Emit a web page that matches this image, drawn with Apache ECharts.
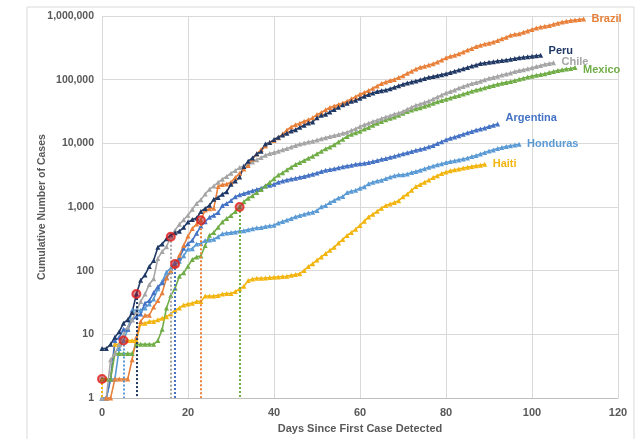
<!DOCTYPE html>
<html>
<head>
<meta charset="UTF-8">
<title>Cumulative cases</title>
<script type="text/javascript" src="https://cdn.jsdelivr.net/npm/echarts@6/dist/echarts.min.js"></script>
<style>
  html, body { margin: 0; padding: 0; background: #fff; }
  #main { width: 638px; height: 439px; }
</style>
</head>
<body>
<div id="main"></div>
<script type="text/javascript">
// cumulative cases per day since first case (index = day, null = no data yet)
var brazil = [null,1,1,2,2,2,2,4,9,16,20,20,27,34,45,77,100,121,175,250,350,460,540,620,900,940,960,2100,2250,2300,2450,2900,3400,3950,4500,5700,6800,8000,9100,10400,11100,12200,14000,16200,18100,19600,20700,22200,23400,25300,28300,30400,33700,36600,38700,40600,43100,45800,50000,54000,59300,63100,67400,73200,79700,87200,92200,97100,101100,107800,115500,126600,135800,146900,156100,162700,169600,178200,190100,203200,220300,233500,241100,255400,271600,291600,310100,330900,347400,363200,374900,391200,411800,438200,465200,498400,514800,526400,555400,584000,614900,645800,672800,691800,707400,739500,772400,802800,828800,850500,867600,880000,895000];
var peru = [6,6,7,9,11,15,17,22,43,71,86,117,145,234,263,318,363,395,416,480,580,635,671,852,950,1065,1323,1414,1595,1746,2281,2561,2954,4342,5256,5897,6848,7519,9784,10303,11475,12491,13489,14420,15628,16325,17837,19250,20914,21648,25331,27517,28699,31190,33931,36976,40459,42534,45928,47372,51189,54817,58526,61847,65015,67307,68822,72059,76306,80604,84495,88541,92273,94933,99483,104020,108769,111698,115754,119959,123979,129751,135905,141779,148285,155671,164476,170039,178914,183198,187400,191758,196515,199696,203736,208823,214788,220749,225132,229736,232992,237156,240908];
var chile = [1,1,4,5,7,10,13,17,23,33,43,61,75,156,201,238,342,434,537,632,746,922,1142,1306,1610,1909,2139,2449,2738,3031,3404,3737,4161,4471,4815,5116,5546,5972,6501,6927,7213,7525,7917,8273,8807,9252,9730,10088,10507,10832,11296,11812,12306,12858,13331,13813,14365,14885,16023,17008,18435,19663,20643,22016,23048,24581,25972,27219,28866,30063,31721,34381,37040,39542,41428,43781,46059,49579,53617,57581,61857,65393,69102,73997,77961,82289,86943,90638,94858,99688,105159,108686,113628,118292,122499,127745,134150,138846,142759,148496,154092,160846,167355,174293,179436,184449];
var mexico = [2,2,2,5,5,5,5,5,7,7,7,7,7,8,12,26,41,53,82,93,118,150,165,170,250,360,400,480,585,660,740,850,1000,1215,1378,1510,1688,1890,2143,2439,2785,3181,3441,3844,4219,4661,5014,5399,5847,6297,6875,7497,8261,8772,9501,10544,11633,12872,13842,14677,15529,16752,17799,19224,20739,22088,23471,24905,26025,27634,29616,31522,33460,35022,36327,38324,40186,42595,45032,47144,49219,51633,54346,56594,59567,62527,65856,68620,71105,74560,78023,81400,84627,87512,90664,93435,97326,101238,105680,110026,113619,117103,120102,124301,129184,133974,139196,142690,146837,150264,154863];
var argentina = [1,1,2,8,9,12,12,17,19,21,31,34,45,56,65,79,97,128,158,225,266,301,387,502,589,690,745,820,1054,1133,1265,1451,1554,1628,1715,1795,1894,1975,2142,2208,2277,2443,2571,2669,2758,2839,2941,3031,3144,3288,3435,3607,3780,3892,4003,4127,4285,4428,4532,4681,4783,4887,5020,5208,5371,5611,5776,6034,6265,6563,6879,7134,7479,7805,8068,8371,8809,9283,9931,10649,11353,12076,12628,13228,13933,14702,15419,16214,16851,17415,18319,19268,20197];
var honduras = [1,1,2,2,6,8,12,24,24,24,26,30,36,52,68,95,110,139,141,172,219,222,264,268,298,305,312,343,382,392,397,407,419,426,442,457,472,477,494,510,519,562,591,627,661,702,738,771,804,830,880,1010,1055,1178,1270,1385,1461,1685,1771,1830,1972,2080,2318,2460,2565,2646,2798,2955,3100,3204,3204,3300,3500,3600,3800,4000,4200,4400,4600,4800,5000,5200,5350,5500,5700,5900,6200,6450,6800,7200,7600,7900,8300,8600,8900,9200,9400,9650];
var haiti = [2,2,2,7,7,8,8,8,8,15,15,16,16,17,18,19,21,24,26,29,30,31,33,33,40,40,40,41,43,44,44,47,52,57,70,74,76,76,77,78,79,80,81,82,85,87,90,101,117,129,147,165,186,209,234,272,310,358,400,450,515,600,700,770,860,960,1060,1120,1180,1260,1450,1600,1830,2100,2250,2450,2650,2900,3100,3350,3550,3700,3850,3950,4100,4200,4350,4450,4550,4700];

// day of the first measure in each country (red circle + dotted drop line)
var measureDay = { Brazil: 23, Peru: 8, Chile: 16, Mexico: 32, Argentina: 17, Honduras: 5, Haiti: 0 };

var countries = [
    { name: 'Haiti', values: haiti, color: '#F2B50F', offset: [0, 0] },
    { name: 'Honduras', values: honduras, color: '#5B9BD5', offset: [0, 0] },
    { name: 'Argentina', values: argentina, color: '#4472C4', offset: [0, -6] },
    { name: 'Mexico', values: mexico, color: '#70AD47', offset: [0, 2] },
    { name: 'Chile', values: chile, color: '#A5A5A5', offset: [0, -1] },
    { name: 'Brazil', values: brazil, color: '#E8803A', offset: [0, 0] },
    { name: 'Peru', values: peru, color: '#1F3864', offset: [0, -4] }
];

var series = [];
var circles = [];
countries.forEach(function (c) {
    var pts = [];
    c.values.forEach(function (v, i) {
        if (v != null) pts.push([i, v]);
    });
    var d = measureDay[c.name];
    var dv = c.values[d];
    circles.push([d, dv]);
    series.push({
        name: c.name,
        type: 'line',
        data: pts,
        symbol: 'triangle',
        symbolSize: 5,
        showSymbol: true,
        lineStyle: { color: c.color, width: 1.6 },
        itemStyle: { color: c.color },
        endLabel: {
            show: true,
            formatter: c.name,
            color: c.color,
            fontWeight: 'bold',
            fontSize: 11,
            fontFamily: 'Liberation Sans',
            offset: c.offset
        },
        markLine: {
            silent: true,
            symbol: 'none',
            label: { show: false },
            lineStyle: { color: c.color, type: 'dotted', width: 2 },
            data: [[{ coord: [d, dv] }, { coord: [d, 1] }]]
        }
    });
});

series.push({
    name: 'measures',
    type: 'scatter',
    data: circles,
    symbol: 'circle',
    symbolSize: 8,
    z: 10,
    itemStyle: { color: 'rgba(160,20,40,0.6)', borderColor: '#E3211C', borderWidth: 2 }
});

var myChart = echarts.init(document.getElementById('main'));
var option = {
    animation: false,
    backgroundColor: '#fff',
    textStyle: { fontFamily: 'Liberation Sans' },
    graphic: [{
        type: 'rect',
        shape: { x: 27, y: 7, width: 607, height: 440 },
        style: { fill: 'none', stroke: '#d9d9d9', lineWidth: 1 },
        silent: true
    }],
    grid: { left: 102, right: 20, top: 16, bottom: 39 },
    xAxis: {
        type: 'value',
        min: 0,
        max: 120,
        interval: 20,
        name: 'Days Since First Case Detected',
        nameLocation: 'middle',
        nameGap: 24,
        nameTextStyle: { color: '#595959', fontWeight: 'bold', fontSize: 11 },
        axisLine: { lineStyle: { color: '#bfbfbf' } },
        axisTick: { show: false },
        axisLabel: { color: '#595959', fontWeight: 'bold', fontSize: 11, margin: 9 },
        splitLine: { show: true, lineStyle: { color: '#d9d9d9' } }
    },
    yAxis: {
        type: 'log',
        logBase: 10,
        min: 1,
        max: 1000000,
        name: 'Cumulative Number of Cases',
        nameLocation: 'middle',
        nameGap: 54,
        nameMoveOverlap: false,
        nameTextStyle: { color: '#595959', fontWeight: 'bold', fontSize: 10.5 },
        axisLine: { show: false },
        axisTick: { show: false },
        axisLabel: {
            color: '#595959',
            fontWeight: 'bold',
            fontSize: 10.5,
            margin: 8,
            formatter: function (v) { return v.toLocaleString('en-US'); }
        },
        splitLine: { show: true, lineStyle: { color: '#d9d9d9' } }
    },
    series: series
};
myChart.setOption(option);
</script>
</body>
</html>
